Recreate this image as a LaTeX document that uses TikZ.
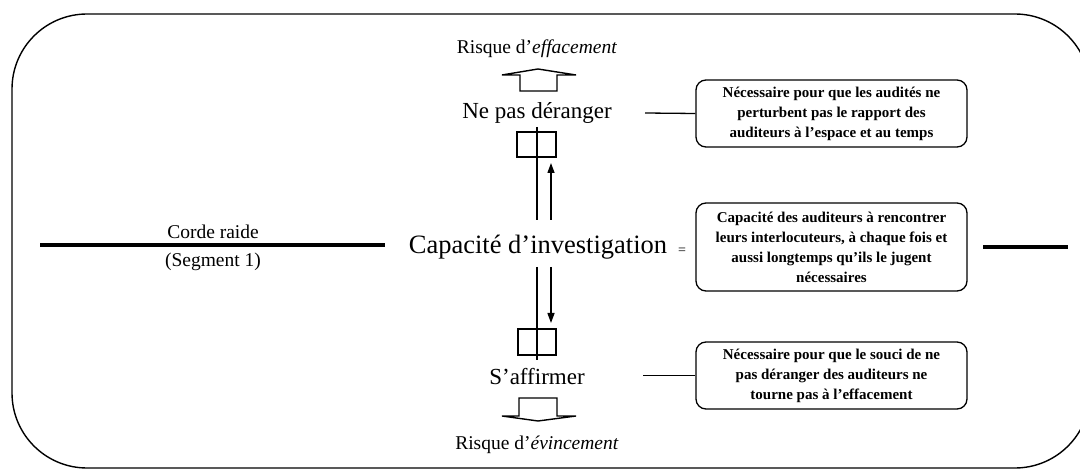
\documentclass[tikz,border=0pt]{standalone}
\usepackage{fontspec}
\setmainfont{Liberation Serif}
\usetikzlibrary{arrows.meta}
\tikzset{
  lbl/.style={inner sep=0pt, anchor=center},
  infobox/.style={draw, line width=1.3pt, rounded corners=10pt, minimum width=271pt, align=center, inner sep=0pt,
     font=\fontsize{15}{20}\selectfont\bfseries},
  sqbox/.style={draw, line width=1.3pt, inner sep=0pt},
  thinline/.style={line width=1.3pt},
  thickline/.style={line width=3.8pt},
  arr/.style={line width=1.3pt, -{Triangle[length=10pt,width=7pt]}},
  blockarrow/.style={line width=1.4pt, line join=miter}
}
\begin{document}
\begin{tikzpicture}[x=1pt,y=-1pt]
\useasboundingbox (0,0) rectangle (1080,473);
\clip (0,0) rectangle (1080,473);
% outer frame
\draw[line width=1.4pt, rounded corners=75pt] (12,14) rectangle (1090,468);

% central texts
\node[lbl, font=\fontsize{19.5}{22}\selectfont] (risk1) at (537,49) {Risque d’\textit{effacement}};
\node[lbl, font=\fontsize{23}{26}\selectfont] (np) at (537,113) {Ne pas déranger};
\node[lbl, font=\fontsize{26.5}{30}\selectfont] (cap) at (538,247) {Capacité d’investigation};
\node[lbl, font=\fontsize{14}{16}\selectfont] (eq) at (682,251) {=};
\node[lbl, font=\fontsize{23}{26}\selectfont] (saff) at (537,377) {S’affirmer};
\node[lbl, font=\fontsize{19.5}{22}\selectfont] (risk2) at (537,445) {Risque d’\textit{évincement}};

% left rope
\node[lbl, font=\fontsize{19.5}{22}\selectfont] (corde) at (213,232) {Corde raide};
\node[lbl, font=\fontsize{19.5}{22}\selectfont] (seg) at (213,262) {(Segment 1)};
\coordinate (ropeL1) at (40,245);
\coordinate (ropeL2) at (385,245);
\draw[thickline] (ropeL1) -- (ropeL2);
\coordinate (ropeR1) at (983,247);
\coordinate (ropeR2) at (1068,247);
\draw[thickline] (ropeR1) -- (ropeR2);

% small squares
\node[sqbox, minimum width=39pt, minimum height=25pt] (sq1) at (536.5,144.5) {};
\node[sqbox, minimum width=38pt, minimum height=26pt] (sq2) at (537,342) {};

% vertical lines
\coordinate (v1a) at (537,127);
\coordinate (v1b) at (537,220);
\draw[thinline] (v1a) -- (v1b);
\coordinate (v2a) at (537,267);
\coordinate (v2b) at (537,360);
\draw[thinline] (v2a) -- (v2b);
\coordinate (a1a) at (551,220);
\coordinate (a1b) at (551,163);
\draw[arr] (a1a) -- (a1b);
\coordinate (a2a) at (551,267);
\coordinate (a2b) at (551,323);
\draw[arr] (a2a) -- (a2b);

% block arrows
\draw[blockarrow] (520,91) -- (520,75) -- (502,75) -- (538,69) -- (576,75) -- (557,75) -- (557,91) -- cycle;
\draw[blockarrow] (519,398) -- (519,416) -- (502,416) -- (538,421) -- (576,416) -- (557,416) -- (557,398) -- cycle;

% info boxes
\node[infobox, minimum height=67pt] (box1) at (831.5,113.5) {Nécessaire pour que les audités ne\\perturbent pas le rapport des\\auditeurs à l’espace et au temps};
\node[infobox, minimum height=88pt] (box2) at (831.5,247) {Capacité des auditeurs à rencontrer\\leurs interlocuteurs, à chaque fois et\\aussi longtemps qu’ils le jugent\\nécessaires};
\node[infobox, minimum height=67pt] (box3) at (831.5,375.5) {Nécessaire pour que le souci de ne\\pas déranger des auditeurs ne\\tourne pas à l’effacement};

% connectors to boxes
\coordinate (c1) at (645,113);
\draw[thinline] (c1) -- (box1.west);
\coordinate (c3) at (643,375.5);
\draw[thinline] (c3) -- (box3.west);
\end{tikzpicture}
\end{document}
